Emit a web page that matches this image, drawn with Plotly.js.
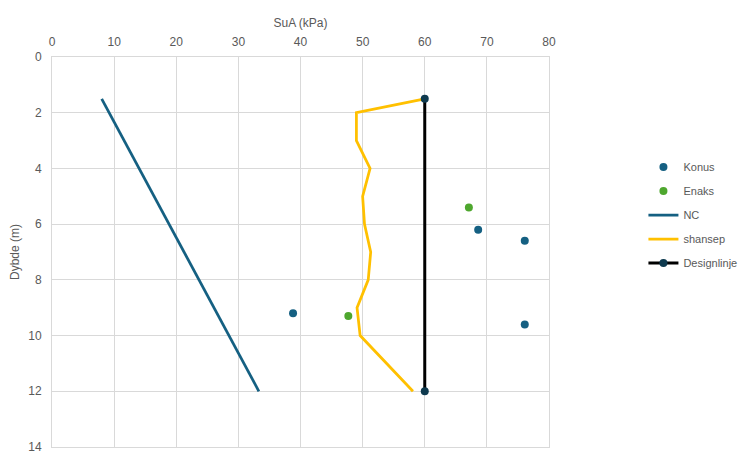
<!DOCTYPE html>
<html>
<head>
<meta charset="utf-8">
<script src="https://cdn.plot.ly/plotly-3.0.1.min.js"></script>
<style>html,body{margin:0;padding:0;background:#fff;}#chart{width:741px;height:454px;}</style>
</head>
<body>
<div id="chart"></div>
<script>
// Data
const konusX = [38.8, 68.6, 76.1, 76.1];
const konusY = [9.2, 6.2, 6.6, 9.6];
const enaksX = [67.1, 47.7];
const enaksY = [5.4, 9.3];
const ncX = [8, 33.3];
const ncY = [1.5, 12];
const shansepX = [60, 49, 49, 51.2, 50, 50.3, 51.3, 50.9, 49.1, 49.6, 58.1];
const shansepY = [1.5, 2, 3, 4, 5, 6, 7, 8, 9, 10, 12];
const designX = [60, 60];
const designY = [1.5, 12];

const fontFam = '"Liberation Sans", Arial, sans-serif';
const txtColor = '#595959';
const grid = '#d9d9d9';

const traces = [
  {name:'Konus', x:konusX, y:konusY, mode:'markers', type:'scatter',
   marker:{color:'#156082', size:8}, legendgroup:'a'},
  {name:'Enaks', x:enaksX, y:enaksY, mode:'markers', type:'scatter',
   marker:{color:'#4EA72E', size:8}, legendgroup:'b'},
  {name:'NC', x:ncX, y:ncY, mode:'lines', type:'scatter',
   line:{color:'#156082', width:2.75}, legendgroup:'c'},
  {name:'shansep', x:shansepX, y:shansepY, mode:'lines', type:'scatter',
   line:{color:'#FFC000', width:2.75}, legendgroup:'d'},
  {name:'Designlinje', x:designX, y:designY, mode:'lines+markers', type:'scatter',
   line:{color:'#000000', width:3}, marker:{color:'#0E3A4F', size:8}, legendgroup:'e'}
];

const layout = {
  width:741, height:454,
  margin:{l:52, r:192, t:57, b:7, autoexpand:false},
  paper_bgcolor:'#fff', plot_bgcolor:'#fff',
  font:{family:fontFam, size:12, color:txtColor},
  showlegend:true,
  legend:{x:1.19, y:0.755, xanchor:'left', yanchor:'top',
          font:{family:fontFam, size:11, color:txtColor},
          traceorder:'grouped', tracegroupgap:5, bgcolor:'rgba(0,0,0,0)'},
  xaxis:{side:'top', range:[0,80], dtick:10, tick0:0,
         showgrid:true, gridcolor:grid, gridwidth:1,
         zeroline:false, showline:true, linecolor:grid, mirror:true,
         ticks:'', ticklabelstandoff:5, ticklabeloverflow:'allow', tickfont:{size:12, color:txtColor},
         title:{text:'SuA (kPa)', font:{size:12, color:txtColor}, standoff:5}},
  yaxis:{range:[14,0], dtick:2, tick0:0,
         showgrid:true, gridcolor:grid, gridwidth:1,
         zeroline:false, showline:true, linecolor:grid, mirror:true,
         ticks:'', ticklabelstandoff:7, ticklabeloverflow:'allow', tickfont:{size:12, color:txtColor},
         title:{text:'Dybde (m)', font:{size:12, color:txtColor}, standoff:6}}
};

Plotly.newPlot('chart', traces, layout, {displayModeBar:false, staticPlot:true});
</script>
</body>
</html>
